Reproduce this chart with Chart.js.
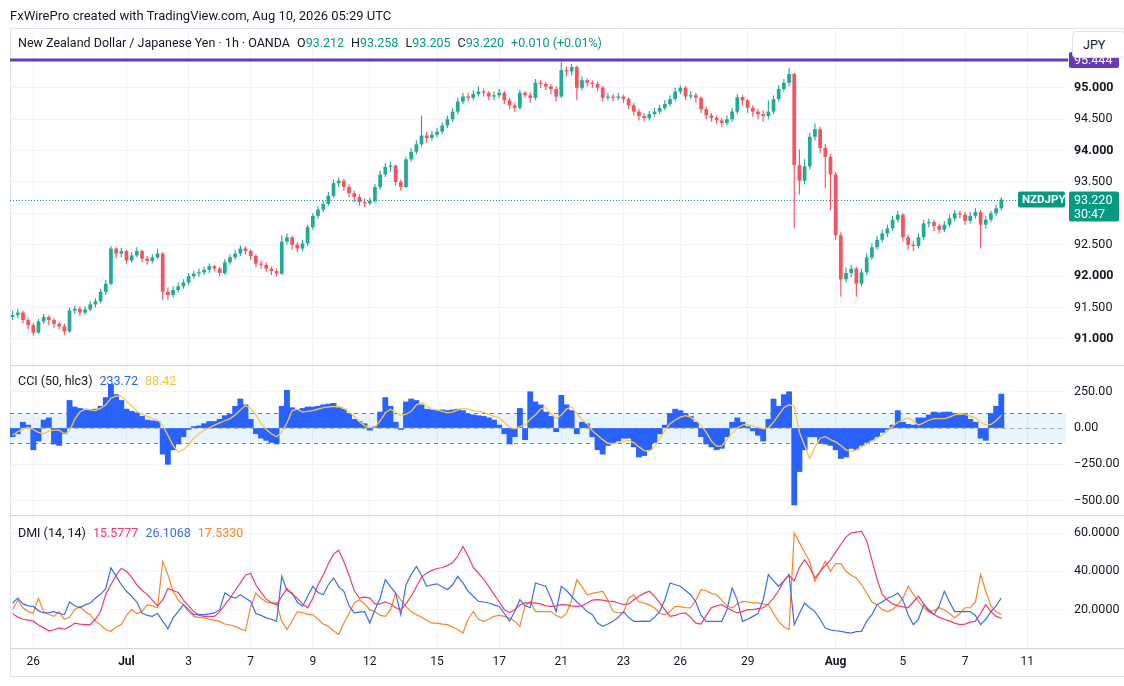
<!DOCTYPE html>
<html>
<head>
<meta charset="utf-8">
<title>NZDJPY 1h - CCI - DMI</title>
<script src="https://cdn.jsdelivr.net/npm/chart.js@4.4.1/dist/chart.umd.min.js"></script>
<style>
  body { margin: 0; background: #fff; font-family: Roboto, 'Noto Sans', sans-serif; color: #131722; }
  #wrap { position: relative; width: 1124px; height: 686px; overflow: hidden; }
  #frame { position: absolute; left: 10px; top: 28px; width: 1120px; height: 649px; border: 1px solid #e0e3eb; box-sizing: border-box; }
  canvas { position: absolute; left: 0; top: 0; }
  .txt { position: absolute; white-space: nowrap; font-size: 12.5px; line-height: 16px; }
  .g { color: #089981; }
  .sp { margin-left: 7px; }
  #jpy { position: absolute; left: 1072px; top: 31px; width: 53px; height: 27px; box-sizing: border-box; border: 1px solid #e0e3eb; border-radius: 4px; background: #fff; font-size: 12.5px; line-height: 25px; padding-left: 10px; }
</style>
</head>
<body>
<div id="wrap">
  <div id="frame"></div>
  <canvas id="chart" width="1124" height="686"></canvas>
  <div class="txt" style="left:10px;top:8px;font-size:13px">FxWirePro created with TradingView.com, Aug 10, 2026 05:29 UTC</div>
  <div class="txt" style="left:18px;top:35px">New Zealand Dollar / Japanese Yen · 1h · OANDA<span class="sp">O</span><span class="g">93.212</span><span class="sp">H</span><span class="g">93.258</span><span class="sp">L</span><span class="g">93.205</span><span class="sp">C</span><span class="g">93.220</span><span class="g sp">+0.010 (+0.01%)</span></div>
  <div class="txt" style="left:18px;top:373px">CCI (50, hlc3)<span class="sp" style="color:#2962ff">233.72</span><span class="sp" style="color:#f2c337">88.42</span></div>
  <div class="txt" style="left:18px;top:525px">DMI (14, 14)<span class="sp" style="color:#f23b6d">15.5777</span><span class="sp" style="color:#3d6cf5">26.1068</span><span class="sp" style="color:#f7862a">17.5330</span></div>
  <div id="jpy">JPY</div>
</div>
<script>
// 4-hour candles, NZD/JPY (OANDA), Jun 25 08:00 -> Aug 10 04:00 UTC
const firstOpen = 91.35;
const closes = [
  91.38, 91.42, 91.30, 91.22, 91.10, 91.28, 91.35, 91.30, 91.24, 91.20, 91.12, 91.45,
  91.48, 91.42, 91.47, 91.55, 91.60, 91.75, 91.88, 92.44, 92.36, 92.40, 92.25, 92.33,
  92.40, 92.28, 92.24, 92.30, 92.36, 91.75, 91.70, 91.78, 91.84, 91.90, 92.00, 92.04,
  92.06, 92.10, 92.16, 92.12, 92.05, 92.22, 92.30, 92.36, 92.44, 92.40, 92.32, 92.20,
  92.18, 92.12, 92.08, 92.04, 92.55, 92.62, 92.50, 92.44, 92.52, 92.78, 92.96, 93.06,
  93.15, 93.28, 93.48, 93.52, 93.42, 93.32, 93.26, 93.18, 93.16, 93.20, 93.42, 93.62,
  93.74, 93.76, 93.50, 93.42, 93.86, 93.98, 94.10, 94.24, 94.20, 94.25, 94.30, 94.40,
  94.50, 94.62, 94.78, 94.86, 94.84, 94.90, 94.94, 94.92, 94.86, 94.88, 94.92, 94.80,
  94.72, 94.68, 94.92, 94.88, 94.84, 95.08, 95.06, 95.02, 94.98, 94.86, 95.28, 95.26,
  95.33, 95.00, 95.12, 95.08, 95.06, 95.00, 94.84, 94.86, 94.84, 94.86, 94.82, 94.72,
  94.62, 94.55, 94.52, 94.58, 94.62, 94.68, 94.74, 94.82, 94.94, 95.00, 94.86, 94.88,
  94.84, 94.66, 94.56, 94.52, 94.48, 94.44, 94.50, 94.62, 94.85, 94.80, 94.68, 94.62,
  94.58, 94.55, 94.62, 94.82, 94.98, 95.08, 95.22, 93.77, 93.52, 93.75, 94.22, 94.34,
  94.04, 93.90, 93.62, 92.65, 91.95, 92.05, 92.12, 91.88, 92.06, 92.30, 92.46, 92.58,
  92.68, 92.76, 92.90, 92.98, 92.62, 92.50, 92.48, 92.62, 92.84, 92.86, 92.80, 92.74,
  92.82, 92.92, 93.00, 92.98, 92.88, 92.96, 93.02, 92.82, 92.90, 93.00, 93.08, 93.22
];
const highs = [
  91.45, 91.48, 91.45, 91.34, 91.26, 91.32, 91.40, 91.38, 91.33, 91.27, 91.24, 91.50,
  91.53, 91.52, 91.52, 91.60, 91.65, 91.80, 91.94, 92.48, 92.46, 92.45, 92.42, 92.38,
  92.46, 92.42, 92.32, 92.35, 92.44, 92.38, 91.82, 91.84, 91.90, 91.95, 92.05, 92.09,
  92.12, 92.15, 92.20, 92.18, 92.15, 92.27, 92.35, 92.42, 92.49, 92.47, 92.43, 92.35,
  92.25, 92.22, 92.15, 92.12, 92.65, 92.68, 92.64, 92.54, 92.58, 92.82, 93.00, 93.12,
  93.20, 93.34, 93.54, 93.57, 93.55, 93.46, 93.36, 93.30, 93.24, 93.25, 93.47, 93.68,
  93.80, 93.82, 93.78, 93.54, 93.90, 94.04, 94.16, 94.56, 94.30, 94.31, 94.36, 94.45,
  94.56, 94.68, 94.84, 94.92, 94.92, 94.96, 95.02, 94.99, 94.95, 94.94, 94.98, 94.95,
  94.84, 94.76, 94.97, 94.95, 94.93, 95.14, 95.12, 95.10, 95.06, 95.02, 95.41, 95.34,
  95.38, 95.35, 95.18, 95.15, 95.12, 95.10, 95.03, 94.92, 94.90, 94.92, 94.89, 94.85,
  94.76, 94.66, 94.60, 94.63, 94.68, 94.73, 94.80, 94.88, 95.00, 95.04, 95.03, 94.95,
  94.92, 94.86, 94.70, 94.60, 94.56, 94.52, 94.56, 94.68, 94.90, 94.88, 94.82, 94.72,
  94.66, 94.64, 94.80, 94.88, 95.04, 95.14, 95.31, 95.24, 94.02, 93.86, 94.28, 94.43,
  94.38, 94.10, 93.95, 93.66, 92.70, 92.14, 92.18, 92.15, 92.12, 92.36, 92.52, 92.64,
  92.74, 92.82, 92.96, 93.04, 93.00, 92.66, 92.56, 92.68, 92.90, 92.92, 92.90, 92.84,
  92.88, 92.98, 93.05, 93.04, 93.02, 93.02, 93.08, 93.05, 92.96, 93.04, 93.14, 93.26
];
const lows = [
  91.30, 91.33, 91.25, 91.15, 91.05, 91.08, 91.24, 91.22, 91.18, 91.15, 91.06, 91.10,
  91.40, 91.37, 91.38, 91.44, 91.50, 91.57, 91.70, 91.85, 92.28, 92.30, 92.20, 92.21,
  92.30, 92.22, 92.18, 92.20, 92.27, 91.62, 91.62, 91.66, 91.74, 91.80, 91.86, 91.96,
  91.99, 92.02, 92.05, 92.08, 92.00, 92.02, 92.18, 92.26, 92.32, 92.34, 92.26, 92.14,
  92.12, 92.07, 92.02, 92.00, 92.02, 92.50, 92.42, 92.38, 92.40, 92.48, 92.74, 92.92,
  93.02, 93.12, 93.25, 93.42, 93.36, 93.26, 93.18, 93.12, 93.10, 93.13, 93.17, 93.38,
  93.58, 93.66, 93.44, 93.36, 93.40, 93.82, 93.94, 94.06, 94.12, 94.16, 94.21, 94.26,
  94.36, 94.46, 94.58, 94.74, 94.78, 94.80, 94.86, 94.86, 94.80, 94.80, 94.84, 94.74,
  94.66, 94.62, 94.65, 94.84, 94.76, 94.80, 95.00, 94.96, 94.90, 94.78, 94.84, 95.18,
  95.20, 94.80, 94.96, 95.02, 95.00, 94.94, 94.78, 94.80, 94.78, 94.80, 94.76, 94.66,
  94.56, 94.48, 94.46, 94.48, 94.54, 94.58, 94.64, 94.70, 94.78, 94.90, 94.80, 94.82,
  94.76, 94.60, 94.50, 94.46, 94.42, 94.38, 94.40, 94.46, 94.58, 94.72, 94.60, 94.54,
  94.50, 94.46, 94.50, 94.58, 94.78, 94.94, 95.02, 92.76, 93.30, 93.46, 93.70, 94.16,
  93.96, 93.40, 93.05, 92.58, 91.67, 91.90, 91.98, 91.67, 91.84, 92.02, 92.26, 92.42,
  92.54, 92.62, 92.72, 92.86, 92.55, 92.42, 92.40, 92.44, 92.58, 92.78, 92.72, 92.68,
  92.70, 92.78, 92.88, 92.92, 92.82, 92.84, 92.92, 92.44, 92.76, 92.86, 92.96, 93.05
];

// CCI (50, hlc3) and its moving average
const cci = [
  -60, -40, 40, 20, -150, -90, 55, 70, -110, -120, -40, 190,
  145, 135, 130, 125, 130, 150, 210, 300, 230, 190, 130, 115,
  105, 80, 55, 50, 45, -180, -250, -150, -110, -60, -10, 10,
  15, 30, 45, 45, 60, 85, 95, 150, 200, 160, 60, -40,
  -70, -85, -100, -110, 150, 260, 140, 125, 135, 145, 145, 150,
  160, 165, 170, 140, 130, 100, 60, 45, 30, -15, 10, 110,
  210, 150, 40, -10, 180, 200, 190, 160, 130, 125, 120, 125,
  120, 125, 130, 120, 95, 90, 85, 80, 70, 55, 20, -40,
  -110, -60, 135, -80, 250, 180, 160, 110, 80, -25, 225, 160,
  120, -40, 40, 30, -60, -150, -180, -120, -100, -90, -70, -70,
  -130, -200, -190, -150, -100, -40, 20, 100, 130, 120, 100, 80,
  40, -60, -110, -130, -150, -140, -60, 40, 70, 40, 10, -20,
  -50, -90, 60, 200, 150, 230, 250, -530, -300, -150, -60, -60,
  -100, -110, -120, -150, -210, -200, -140, -150, -120, -100, -85, -60,
  -30, -10, 20, 120, 40, 25, 20, 70, 70, 90, 110, 105,
  110, 110, 100, 90, 100, 60, 40, -70, -85, 100, 150, 233.72
];
const cciMa = [
  -50, -25, -10, 5, -10, -30, -40, -20, -15, -15, -40, -20,
  60, 110, 130, 125, 120, 135, 160, 205, 220, 220, 185, 150,
  115, 95, 80, 65, 55, 20, -50, -120, -165, -150, -115, -70,
  -40, -15, 0, 20, 35, 50, 65, 90, 125, 155, 135, 90,
  30, -10, -40, -60, -30, 35, 120, 130, 110, 115, 120, 130,
  140, 145, 148, 150, 135, 110, 80, 45, 15, 5, 8, 50,
  105, 130, 110, 85, 95, 115, 160, 175, 150, 130, 125, 115,
  105, 110, 125, 135, 130, 120, 115, 110, 95, 80, 70, 40,
  5, -5, 10, 20, 60, 90, 130, 140, 100, 65, 90, 130,
  145, 100, 55, 30, -20, -50, -80, -105, -110, -100, -90, -85,
  -100, -130, -155, -160, -130, -75, -20, 30, 55, 75, 85, 75,
  50, 20, -30, -90, -125, -125, -80, -35, 0, 20, 25, 15,
  5, -5, 0, 40, 90, 140, 160, 150, -30, -120, -210, -130,
  -70, -60, -80, -95, -120, -150, -160, -150, -130, -110, -90, -70,
  -50, -20, 10, 40, 55, 70, 50, 20, 35, 55, 65, 65,
  65, 75, 90, 100, 95, 80, 70, 40, 20, 25, 50, 88.42
];

// DMI (14, 14)
const adx = [
  18, 16, 15, 14.5, 14, 12, 10.5, 9, 9.5, 10.5, 9.8, 11,
  13, 12.5, 12.2, 12.2, 15, 19, 28, 33, 38, 41.5, 40, 37,
  33, 30, 28, 25, 22, 25, 31, 30, 29, 25, 22, 19,
  17, 16.5, 16.5, 16.5, 19, 22.5, 26, 30, 34, 38, 39, 33,
  29, 25.5, 23.5, 22.6, 27, 31, 28, 26, 23, 21, 26, 33,
  38, 44, 49, 51, 45, 38, 30, 26, 26.5, 26, 23, 23,
  24, 23, 21, 20, 23, 27, 32, 37, 39, 40.5, 41.5, 42,
  43, 44.5, 48, 53, 48, 42, 39, 36, 32, 28, 24, 20,
  18.5, 20, 22.5, 23.5, 23.5, 23.5, 23, 22, 21.7, 22, 22.6, 22.5,
  22, 21.7, 22, 23.5, 25, 25.2, 25, 24.5, 24.3, 23.5, 22.6, 23,
  25, 27, 28.5, 29.6, 27, 23.5, 20, 16.5, 17, 18, 18.3, 16,
  13, 12.5, 17, 21, 22, 22.6, 21, 19.5, 18.3, 19, 20, 20,
  20.5, 21, 23, 26, 30, 35, 38, 35, 42, 46, 42, 36.5,
  40, 43, 46, 50, 54, 58, 60, 60.5, 60.9, 56, 46, 36,
  28, 25, 23, 22, 21.5, 21, 24, 27, 23, 19, 17.5, 16,
  15, 14, 13, 12.2, 12.5, 13.5, 14, 18, 22.6, 19, 16.5, 15.58
];
const plusDi = [
  23.5, 26, 23, 22, 21.7, 19.5, 18.3, 18.5, 19, 18, 17.4, 24,
  22, 21, 22.5, 23.5, 26, 28, 31, 41.8, 37.4, 33, 29.6, 27,
  24, 18.3, 17, 16.5, 18, 14, 10, 15.7, 19, 22.6, 20, 17.4,
  17.5, 17.4, 17.8, 18.3, 20, 28.7, 27, 26, 27.8, 26, 24.3, 18,
  17, 15.7, 15, 13.9, 37.4, 30, 28.7, 24, 21.7, 27, 32.2, 29,
  27.8, 33, 36.5, 32, 29.6, 22, 18.3, 18.7, 19, 13, 20, 26,
  35.7, 32, 28.7, 17.4, 33, 38.3, 42.6, 38, 32.2, 33, 33.5, 32,
  30.4, 33, 37.4, 34, 29.6, 27, 24.3, 24, 23.5, 22.5, 21.7, 18,
  14, 19, 25.2, 22, 21, 33.9, 33, 32.2, 26, 19, 32.2, 30,
  27, 24, 21.7, 19, 17.4, 13, 11.3, 12.5, 13.9, 16, 19, 16,
  13.9, 13.9, 14, 13.9, 16, 19, 25, 33.9, 33, 32.2, 30, 27.8,
  24, 17, 13.9, 13.9, 13.9, 13.9, 20, 31.3, 25, 13.9, 15, 16.5,
  18, 25, 38.3, 35, 32.2, 35, 38.3, 12.2, 18, 23.5, 21, 19,
  15, 10.4, 9.5, 9, 8.7, 8.2, 7.8, 8.5, 8.7, 14, 17.4, 22.6,
  24, 26, 27, 28.7, 25, 17.4, 12.2, 15, 22.6, 20, 17.4, 22,
  29.6, 24, 19, 19, 19, 19, 17, 12.2, 15, 19, 22, 26.11
];
const minusDi = [
  20, 25, 21, 19, 18.3, 26, 19, 17.5, 16.5, 19, 15, 16,
  20, 21.7, 19, 17.4, 14, 12.2, 9.5, 8.7, 11, 12.2, 17, 20,
  18, 19, 22.6, 22, 21, 45.2, 38.3, 29.6, 25, 22.6, 19, 16.5,
  16, 15.7, 15, 14.5, 13.9, 12.5, 12, 11.3, 10, 9, 21.7, 28.7,
  26, 24, 23.5, 23.5, 14, 9.6, 14, 19, 18.5, 17.4, 17.4, 15,
  12.5, 11.3, 9, 7, 13, 18, 23.5, 25.2, 23, 20, 19, 17,
  16.5, 20, 28.7, 25, 21.7, 19, 17.4, 16, 14.5, 13, 13, 12.5,
  12.2, 11, 9.5, 7.8, 15, 19, 15, 13.9, 15, 16.5, 17, 16.5,
  15.7, 14, 11.3, 22, 24.3, 19, 19, 19, 19, 17, 15.7, 18,
  25, 35.7, 32, 27.8, 28.5, 29, 29.6, 25, 19, 18.5, 18.3, 26,
  27.8, 24, 23.5, 22.5, 21, 18, 17.4, 19, 21.7, 21.5, 21, 21,
  25, 30.4, 30, 28.5, 27.8, 25, 22, 21, 23, 24.3, 24, 23.5,
  23.5, 23, 22.6, 18, 13.9, 11, 9.6, 60, 55, 50, 45, 34.8,
  40, 45.2, 40, 44, 44, 40, 38, 36.5, 33, 28.7, 24, 22.6,
  20, 19, 20, 22.6, 26, 32.2, 28, 24.3, 21, 19, 19.5, 21,
  20, 18, 15.7, 18, 21, 21, 24, 38.3, 29.6, 22, 19, 17.53
];

// axis ticks and chart annotations
const priceTicks = [91, 91.5, 92, 92.5, 93, 93.5, 94, 94.5, 95];
const cciTicks = [-500, -250, 0, 250];
const cciBand = [100, -100];
const dmiTicks = [20, 40, 60];
const xTickDates = ['2026-06-26', '2026-07-01', '2026-07-03', '2026-07-07', '2026-07-09', '2026-07-12',
  '2026-07-15', '2026-07-17', '2026-07-21', '2026-07-23', '2026-07-26', '2026-07-29', '2026-08-02',
  '2026-08-05', '2026-08-07', '2026-08-11'];
const xTickText = ['26', 'Jul', '3', '7', '9', '12', '15', '17', '21', '23', '26', '29', 'Aug', '5', '7', '11'];
const levelLine = 95.444;
const countdown = '30:47';
const symbol = 'NZDJPY';

const upColor = '#22ab94';
const downColor = '#f7525f';
const gridColor = '#f0f3fa';
const textColor = '#131722';
const fontFamily = "Roboto, 'Noto Sans', sans-serif";

// 4h time slots in forex trading hours (Sun 21:00 - Fri 21:00), plus some empty future slots
const categories = [];
for (let t = Date.UTC(2026, 5, 25, 8); categories.length < closes.length + 12; t += 4 * 3600e3) {
    const d = new Date(t);
    const wd = d.getUTCDay();
    const h = d.getUTCHours();
    if (wd === 6) continue;
    if (wd === 0 && h < 20) continue;
    if (wd === 5 && h >= 20) continue;
    categories.push(d.toISOString().slice(0, 13));
}

const tickTextAt = {};
xTickDates.forEach((day, k) => {
    const idx = categories.findIndex(c => c.startsWith(day));
    if (idx >= 0) tickTextAt[idx] = xTickText[k];
});

const opens = closes.map((c, i) => (i === 0 ? firstOpen : closes[i - 1]));
const candleColors = closes.map((c, i) => (c >= opens[i] ? upColor : downColor));
const bodies = closes.map((c, i) => [opens[i], c]);
const wicks = closes.map((c, i) => [Math.min(lows[i], opens[i], c), Math.max(highs[i], opens[i], c)]);

function roundRect(ctx, x, y, w, h, r) {
    ctx.beginPath();
    ctx.moveTo(x + r, y);
    ctx.arcTo(x + w, y, x + w, y + h, r);
    ctx.arcTo(x + w, y + h, x, y + h, r);
    ctx.arcTo(x, y + h, x, y, r);
    ctx.arcTo(x, y, x + w, y, r);
    ctx.closePath();
}

const paneDecor = {
    id: 'paneDecor',
    beforeDatasetsDraw(chart) {
        const { ctx, chartArea: a, scales } = chart;
        const cciScale = scales.cci;
        ctx.save();
        // CCI band between +100 and -100
        const yHi = cciScale.getPixelForValue(cciBand[0]);
        const yLo = cciScale.getPixelForValue(cciBand[1]);
        ctx.fillStyle = 'rgba(33, 150, 243, 0.1)';
        ctx.fillRect(a.left, yHi, a.right - a.left, yLo - yHi);
        ctx.lineWidth = 1;
        ctx.setLineDash([4, 4]);
        ctx.strokeStyle = '#787b86';
        cciBand.forEach(v => {
            const y = Math.round(cciScale.getPixelForValue(v)) + 0.5;
            ctx.beginPath(); ctx.moveTo(a.left, y); ctx.lineTo(a.right, y); ctx.stroke();
        });
        ctx.strokeStyle = 'rgba(120, 123, 134, 0.5)';
        const y0 = Math.round(cciScale.getPixelForValue(0)) + 0.5;
        ctx.beginPath(); ctx.moveTo(a.left, y0); ctx.lineTo(a.right, y0); ctx.stroke();
        ctx.restore();
    },
    afterDatasetsDraw(chart) {
        const { ctx, chartArea: a, scales } = chart;
        const p = scales.price;
        ctx.save();
        // dotted last price line
        const yLast = Math.round(p.getPixelForValue(closes[closes.length - 1])) + 0.5;
        ctx.strokeStyle = '#089981';
        ctx.lineWidth = 1;
        ctx.setLineDash([1, 2]);
        ctx.beginPath(); ctx.moveTo(a.left, yLast); ctx.lineTo(a.right, yLast); ctx.stroke();
        // horizontal level
        ctx.setLineDash([]);
        ctx.strokeStyle = '#673ab7';
        ctx.lineWidth = 3;
        const yLvl = p.getPixelForValue(levelLine);
        ctx.beginPath(); ctx.moveTo(a.left, yLvl); ctx.lineTo(a.right + 2, yLvl); ctx.stroke();
        // pane separators
        ctx.strokeStyle = '#d1d4dc';
        ctx.lineWidth = 1;
        [scales.cci.top, scales.dmi.top, scales.x.top].forEach(y => {
            const yy = Math.round(y) + 0.5;
            ctx.beginPath(); ctx.moveTo(10, yy); ctx.lineTo(chart.width, yy); ctx.stroke();
        });
        ctx.restore();
    },
    afterDraw(chart) {
        const { ctx, chartArea: a, scales } = chart;
        const p = scales.price;
        ctx.save();
        ctx.textBaseline = 'middle';
        // level label
        const yLvl = p.getPixelForValue(levelLine);
        ctx.fillStyle = '#673ab7';
        roundRect(ctx, a.right + 3, yLvl - 8, 50, 16, 2); ctx.fill();
        ctx.fillStyle = '#fff';
        ctx.font = '12.5px ' + fontFamily;
        ctx.fillText(levelLine.toFixed(3), a.right + 8, yLvl + 1);
        // last price: symbol tag + price / countdown box
        const last = closes[closes.length - 1];
        const yLast = p.getPixelForValue(last);
        ctx.fillStyle = '#089981';
        roundRect(ctx, a.right - 48, yLast - 8, 47, 16, 2); ctx.fill();
        roundRect(ctx, a.right + 3, yLast - 8, 50, 30, 2); ctx.fill();
        ctx.fillStyle = '#fff';
        ctx.font = 'bold 11.5px ' + fontFamily;
        ctx.fillText(symbol, a.right - 44, yLast + 1);
        ctx.font = '12.5px ' + fontFamily;
        ctx.fillText(last.toFixed(3), a.right + 8, yLast + 1);
        ctx.fillText(countdown, a.right + 8, yLast + 15);
        ctx.restore();
    }
};

const yCommon = {
    type: 'linear',
    position: 'right',
    stack: 'panes',
    beginAtZero: false,
    grid: { color: gridColor, drawTicks: false },
    border: { display: false },
    afterFit(scale) { scale.width = 58; }
};

new Chart(document.getElementById('chart'), {
    type: 'bar',
    data: {
        labels: categories,
        datasets: [
            {
                label: 'Body', yAxisID: 'price', data: bodies, backgroundColor: candleColors,
                grouped: false, barPercentage: 0.72, categoryPercentage: 1, minBarLength: 1, order: 1
            },
            {
                label: 'Wick', yAxisID: 'price', data: wicks, backgroundColor: candleColors,
                grouped: false, barPercentage: 0.22, categoryPercentage: 1, order: 2
            },
            {
                type: 'line', label: 'CCI MA', yAxisID: 'cci', data: cciMa, borderColor: '#f7c948',
                borderWidth: 1.3, pointRadius: 0, order: 3
            },
            {
                label: 'CCI', yAxisID: 'cci', data: cci, backgroundColor: '#2962ff',
                grouped: false, barPercentage: 1, categoryPercentage: 1, order: 4
            },
            {
                type: 'line', label: 'ADX', yAxisID: 'dmi', data: adx, borderColor: '#f23b6d',
                borderWidth: 1.2, pointRadius: 0, order: 0
            },
            {
                type: 'line', label: '+DI', yAxisID: 'dmi', data: plusDi, borderColor: '#3d6cf5',
                borderWidth: 1.2, pointRadius: 0, order: 0
            },
            {
                type: 'line', label: '-DI', yAxisID: 'dmi', data: minusDi, borderColor: '#f7862a',
                borderWidth: 1.2, pointRadius: 0, order: 0
            }
        ]
    },
    options: {
        responsive: false,
        animation: false,
        layout: { padding: { left: 10, top: 30, right: 0, bottom: 8 } },
        plugins: { legend: { display: false }, tooltip: { enabled: false } },
        scales: {
            x: {
                type: 'category',
                offset: true,
                grid: {
                    offset: false,
                    drawTicks: false,
                    color: ctx => (tickTextAt[ctx.index] !== undefined ? gridColor : 'rgba(0,0,0,0)')
                },
                border: { display: false },
                ticks: {
                    autoSkip: false,
                    maxRotation: 0,
                    minRotation: 0,
                    padding: 7,
                    color: textColor,
                    font: ctx => {
                        const t = tickTextAt[ctx.index];
                        return { family: fontFamily, size: 12, weight: (t === 'Jul' || t === 'Aug') ? 'bold' : 'normal' };
                    },
                    callback: (value, index) => tickTextAt[index] || ''
                },
                afterFit(scale) { scale.height = 30; }
            },
            price: {
                ...yCommon,
                stackWeight: 335,
                min: 90.585,
                max: 95.92,
                afterBuildTicks(scale) { scale.ticks = priceTicks.map(v => ({ value: v })); },
                ticks: {
                    padding: 8,
                    color: textColor,
                    font: ctx => ({
                        family: fontFamily, size: 12.5,
                        weight: (ctx.tick && Number.isInteger(ctx.tick.value)) ? 'bold' : 'normal'
                    }),
                    callback: v => v.toFixed(3)
                }
            },
            cci: {
                ...yCommon,
                stackWeight: 150,
                min: -599,
                max: 434,
                afterBuildTicks(scale) { scale.ticks = cciTicks.map(v => ({ value: v })); },
                ticks: {
                    padding: 8,
                    color: textColor,
                    font: { family: fontFamily, size: 12.5 },
                    callback: v => (v < 0 ? '\u2212' : '') + Math.abs(v).toFixed(2)
                }
            },
            dmi: {
                ...yCommon,
                stackWeight: 133,
                min: 0,
                max: 69.4,
                afterBuildTicks(scale) { scale.ticks = dmiTicks.map(v => ({ value: v })); },
                ticks: {
                    padding: 8,
                    color: textColor,
                    font: { family: fontFamily, size: 12.5 },
                    callback: v => v.toFixed(4)
                }
            }
        }
    },
    plugins: [paneDecor]
});
</script>
</body>
</html>
